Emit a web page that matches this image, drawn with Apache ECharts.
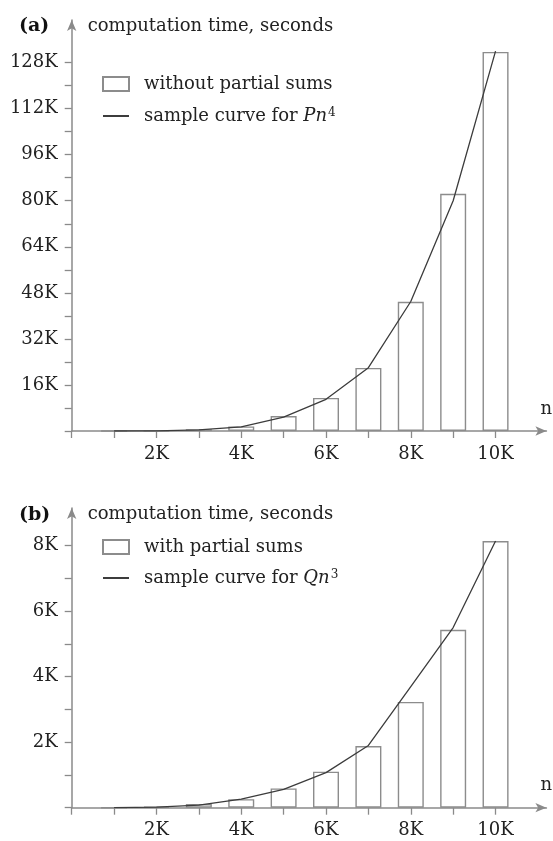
<!DOCTYPE html>
<html>
<head>
<meta charset="utf-8">
<script src="https://cdn.jsdelivr.net/npm/echarts@6/dist/echarts.min.js"></script>
<style>
  html, body { margin: 0; background: #fff; }
  #chart { width: 553px; height: 841px; }
</style>
</head>
<body>
<div id="chart"></div>
<script>
// problem size n, in thousands
const sizes = [1, 2, 3, 4, 5, 6, 7, 8, 9, 10];
// computation time, thousands of seconds
const timeWithout = [0, 0.05, 0.6, 1.6, 5.2, 11.5, 21.9, 44.9, 82.4, 131.7];
const curveP = [0, 0.05, 0.4, 1.4, 4.8, 11, 22, 45, 80, 132];
const timeWith = [0, 0.03, 0.11, 0.26, 0.59, 1.1, 1.88, 3.23, 5.43, 8.14];
const curveQ = [0, 0.02, 0.08, 0.26, 0.56, 1.07, 1.9, 3.7, 5.5, 8.14];

const xTicks = [0, 1, 2, 3, 4, 5, 6, 7, 8, 9, 10];
const xLabels = [2, 4, 6, 8, 10];
const yTicksA = [0, 8, 16, 24, 32, 40, 48, 56, 64, 72, 80, 88, 96, 104, 112, 120, 128];
const yLabelsA = [16, 32, 48, 64, 80, 96, 112, 128];
const yTicksB = [0, 1, 2, 3, 4, 5, 6, 7, 8];
const yLabelsB = [2, 4, 6, 8];

const SERIF = "DejaVu Serif";
const axisGray = "#8a8a8a";

const pairs = (ys) => sizes.map((n, i) => [n, ys[i]]);

function xAxis(gridIndex) {
  return {
    type: "value", gridIndex, min: 0, max: 11.2,
    name: "n", nameLocation: "end", nameGap: -6,
    nameTextStyle: { fontFamily: SERIF, fontSize: 18, color: "#222", verticalAlign: "bottom", padding: [0, 0, 13, 0] },
    axisLine: { lineStyle: { color: axisGray, width: 1.5 }, symbol: ["none", "arrow"], symbolSize: [7, 11] },
    axisTick: { length: 7, lineStyle: { color: axisGray, width: 1.3 }, customValues: xTicks },
    axisLabel: { customValues: xLabels, formatter: (v) => v + "K", fontFamily: SERIF, fontSize: 18, color: "#222", margin: 14 },
    splitLine: { show: false },
  };
}

function yAxis(gridIndex, max, ticks, labels) {
  return {
    type: "value", gridIndex, min: 0, max,
    name: "computation time, seconds", nameLocation: "end", nameGap: -6,
    nameTextStyle: { fontFamily: SERIF, fontSize: 18, color: "#222", align: "left", verticalAlign: "middle", padding: [0, 0, 0, 16] },
    axisLine: { lineStyle: { color: axisGray, width: 1.5 }, symbol: ["none", "arrow"], symbolSize: [7, 11] },
    axisTick: { length: 7, lineStyle: { color: axisGray, width: 1.3 }, customValues: ticks },
    axisLabel: { customValues: labels, formatter: (v) => v + "K", fontFamily: SERIF, fontSize: 18, color: "#222", margin: 14 },
    splitLine: { show: false },
  };
}

function legend(top, gap, barName, lineName, letter, power) {
  return {
    orient: "vertical", left: 97, top, itemWidth: 26, itemHeight: 14, itemGap: gap,
    data: [{ name: barName, icon: "rect" }, { name: lineName, itemStyle: { opacity: 0 } }],
    formatter: (name) => name === lineName ? "sample curve for {i|" + letter + "n}{s|" + power + "}" : name,
    textStyle: {
      fontFamily: SERIF, fontSize: 18, color: "#222", padding: [0, 0, 0, 10],
      rich: {
        i: { fontFamily: SERIF, fontSize: 18, fontStyle: "italic", color: "#222" },
        s: { fontFamily: SERIF, fontSize: 12, color: "#222", verticalAlign: "top", padding: [0, 0, 6, 1] },
      },
    },
  };
}

const barStyle = { color: "rgba(255,255,255,0)", borderColor: "#8c8c8c", borderWidth: 1.4 };
const lineStyle = { color: "#3c3c3c", width: 1.3 };

const chart = echarts.init(document.getElementById("chart"), null, { renderer: "canvas" });
chart.setOption({
  backgroundColor: "#fff",
  animation: false,
  title: [
    { text: "(a)", left: 14, top: 12, textStyle: { fontFamily: SERIF, fontSize: 19, fontWeight: "bold", color: "#111" } },
    { text: "(b)", left: 14, top: 501, textStyle: { fontFamily: SERIF, fontSize: 19, fontWeight: "bold", color: "#111" } },
  ],
  grid: [
    { left: 71.7, right: 6.3, top: 20, height: 411, containLabel: false },
    { left: 71.7, right: 6.3, top: 508, height: 299.7, containLabel: false },
  ],
  legend: [
    legend(70, 14, "without partial sums", "sample curve for Pn4", "P", 4),
    legend(533, 13, "with partial sums", "sample curve for Qn3", "Q", 3),
  ],
  xAxis: [xAxis(0), xAxis(1)],
  yAxis: [yAxis(0, 142.8, yTicksA, yLabelsA), yAxis(1, 9.15, yTicksB, yLabelsB)],
  series: [
    { name: "without partial sums", type: "bar", xAxisIndex: 0, yAxisIndex: 0, barWidth: 26, data: pairs(timeWithout), itemStyle: barStyle },
    { name: "sample curve for Pn4", type: "line", xAxisIndex: 0, yAxisIndex: 0, data: pairs(curveP), showSymbol: false, symbol: "none", lineStyle, itemStyle: { color: "#3c3c3c" }, z: 3 },
    { name: "with partial sums", type: "bar", xAxisIndex: 1, yAxisIndex: 1, barWidth: 26, data: pairs(timeWith), itemStyle: barStyle },
    { name: "sample curve for Qn3", type: "line", xAxisIndex: 1, yAxisIndex: 1, data: pairs(curveQ), showSymbol: false, symbol: "none", lineStyle, itemStyle: { color: "#3c3c3c" }, z: 3 },
  ],
});
</script>
</body>
</html>
